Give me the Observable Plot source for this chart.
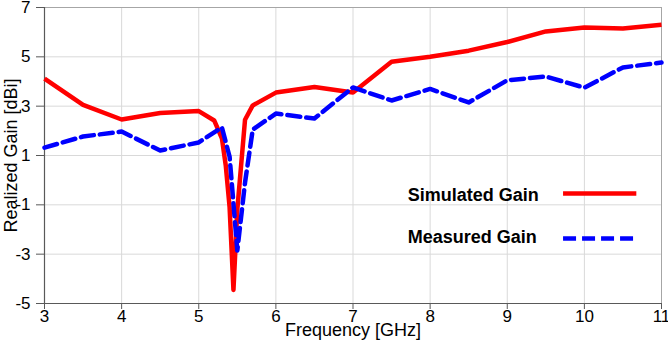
<!DOCTYPE html>
<html><head><meta charset="utf-8">
<script src="https://cdn.jsdelivr.net/npm/d3@7"></script>
<script src="https://cdn.jsdelivr.net/npm/@observablehq/plot@0.6"></script>
<style>
html,body{margin:0;padding:0;background:#fff;}
svg{font-family:"Liberation Sans",Arial,sans-serif;}
</style>
</head><body>
<div id="chart"></div>
<script>
const seriesNames = ["Simulated Gain", "Measured Gain"];
const simFreq = [3, 3.5, 4, 4.5, 5, 5.2, 5.3, 5.35, 5.4, 5.45, 5.5, 5.6, 5.7, 6, 6.5, 7, 7.5, 8, 8.5, 9, 9.5, 10, 10.5, 11];
const simGain = [4.12, 3.05, 2.46, 2.72, 2.8, 2.42, 1.7, 0.6, -1.1, -4.45, -1.2, 2.45, 3.03, 3.55, 3.78, 3.55, 4.8, 5.0, 5.25, 5.6, 6.03, 6.19, 6.15, 6.3];
const measFreq = [3, 3.5, 4, 4.5, 5, 5.3, 5.4, 5.5, 5.6, 5.7, 6, 6.5, 7, 7.5, 8, 8.5, 9, 9.5, 10, 10.5, 11];
const measGain = [1.32, 1.77, 1.97, 1.2, 1.53, 2.14, 0.95, -2.85, -0.1, 2.05, 2.7, 2.5, 3.76, 3.23, 3.7, 3.15, 4.05, 4.2, 3.75, 4.57, 4.77];
const xTicks = [3, 4, 5, 6, 7, 8, 9, 10, 11];
const yTicks = [-5, -3, -1, 1, 3, 5, 7];
const xLabel = "Frequency [GHz]";
const yLabel = "Realized Gain [dBi]";

const xDomain = [3, 11];
const yDomain = [-5, 7];

const sim = simFreq.map((f, i) => ({f, g: simGain[i]}));
const meas = measFreq.map((f, i) => ({f, g: measGain[i]}));

// legend placement (data units)
const legend = [
  {name: seriesNames[0], ty: -0.62, ly: -0.54, color: "#ff0000", dash: null},
  {name: seriesNames[1], ty: -2.32, ly: -2.36, color: "#0000ff", dash: "13,6"}
];
const legTextX = 7.71, legLineX1 = 9.73, legLineX2 = 10.68;

const chart = Plot.plot({
  width: 668,
  height: 341,
  marginLeft: 44,
  marginRight: 7,
  marginTop: 7,
  marginBottom: 38,
  style: {fontFamily: "Liberation Sans, Arial, sans-serif", background: "#fff"},
  x: {domain: xDomain, ticks: xTicks},
  y: {domain: yDomain, ticks: yTicks},
  marks: [
    Plot.gridX(xTicks, {stroke: "#d9d9d9", strokeOpacity: 1, strokeWidth: 1}),
    Plot.gridY(yTicks, {stroke: "#d9d9d9", strokeOpacity: 1, strokeWidth: 1}),
    Plot.ruleY([yDomain[1]], {stroke: "#a6a6a6", strokeWidth: 1}),
    Plot.ruleX([xDomain[1]], {stroke: "#a6a6a6", strokeWidth: 1}),
    Plot.axisX(xTicks, {tickSize: 6, tickPadding: 0, fontSize: 17, fill: "#000", stroke: "#595959", label: null, tickFormat: d => String(d)}),
    Plot.axisY(yTicks, {tickSize: 8, tickPadding: 6, fontSize: 17, fill: "#000", stroke: "#595959", label: null, tickFormat: d => String(d)}),
    Plot.ruleX([xDomain[0]], {stroke: "#595959", strokeWidth: 1.2}),
    Plot.ruleY([yDomain[0]], {stroke: "#595959", strokeWidth: 1.2}),
    Plot.line(sim, {x: "f", y: "g", stroke: "#ff0000", strokeWidth: 4.5, strokeLinejoin: "round", strokeLinecap: "butt"}),
    Plot.line(meas, {x: "f", y: "g", stroke: "#0000ff", strokeWidth: 4.5, strokeDasharray: "13,6", strokeLinejoin: "round"}),
    Plot.text(legend, {x: () => legTextX, y: "ty", text: "name", textAnchor: "start", fontSize: 18, fontWeight: "bold", fill: "#000"}),
    Plot.ruleY(legend.filter(d => !d.dash), {y: "ly", x1: () => legLineX1, x2: () => legLineX2, stroke: "color", strokeWidth: 4.5}),
    Plot.ruleY(legend.filter(d => d.dash), {y: "ly", x1: () => legLineX1, x2: () => legLineX2, stroke: "color", strokeWidth: 4.5, strokeDasharray: "13,6"}),
    Plot.text([xLabel], {frameAnchor: "bottom", dy: 27, lineAnchor: "middle", textAnchor: "middle", fontSize: 18, fill: "#000"}),
    Plot.text([yLabel], {frameAnchor: "left", dx: -33, rotate: -90, lineAnchor: "middle", textAnchor: "middle", fontSize: 18, fill: "#000"})
  ]
});
document.getElementById("chart").appendChild(chart);
</script>
</body></html>
